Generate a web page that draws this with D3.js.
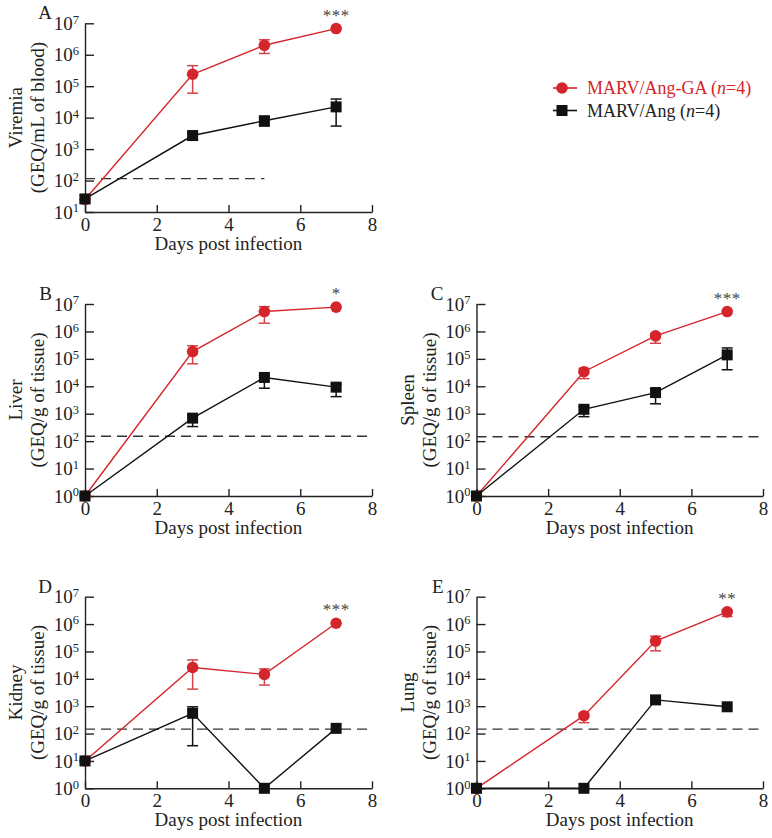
<!DOCTYPE html>
<html>
<head>
<meta charset="utf-8">
<script src="https://cdn.jsdelivr.net/npm/d3@7"></script>
<style>
  html, body { margin: 0; padding: 0; background: #fff; }
  svg { display: block; }
</style>
</head>
<body>
<svg id="chart" width="772" height="838"></svg>
<script>
// ---------------- DATA ----------------
const days = [0, 3, 5, 7];
const xTickValues = [0, 2, 4, 6, 8];
const seriesNames = ["MARV/Ang-GA", "MARV/Ang"];
const seriesN = [4, 4];
const panelLetters = ["A", "B", "C", "D", "E"];
const yTitleLine1 = ["Viremia", "Liver", "Spleen", "Kidney", "Lung"];
const yTitleLine2 = ["(GEQ/mL of blood)", "(GEQ/g of tissue)", "(GEQ/g of tissue)", "(GEQ/g of tissue)", "(GEQ/g of tissue)"];
const xTitle = "Days post infection";
const significance = ["***", "*", "***", "***", "**"];
const yMinExponent = [1, 0, 0, 0, 0];
const yMaxExponent = [7, 7, 7, 7, 7];
const detectionLimit = [115, 150, 145, 145, 145];
const detectionLimitEndDay = [5, 8, 8, 8, 8];

// MARV/Ang-GA (red) mean, lower and upper error per panel (null = no visible bar)
const gaMean = [
  [25, 2.4e5, 2.0e6, 6.8e6],
  [1, 1.85e5, 5.3e6, 7.7e6],
  [1, 3.4e4, 6.9e5, 5.3e6],
  [10, 2.6e4, 1.45e4, 1.07e6],
  [1, 450, 2.4e5, 2.8e6]
];
const gaLow = [
  [null, 6.0e4, 1.1e6, null],
  [null, 6.6e4, 2.0e6, null],
  [null, 1.9e4, 3.7e5, null],
  [null, 4.2e3, 5.9e3, null],
  [null, 250, 1.05e5, 1.9e6]
];
const gaHigh = [
  [null, 4.5e5, 3.0e6, null],
  [null, 3.0e5, 8.0e6, null],
  [null, 4.5e4, 8.5e5, null],
  [null, 4.9e4, 2.3e4, null],
  [null, 550, 3.6e5, 3.3e6]
];
// MARV/Ang (black)
const angMean = [
  [26, 2.7e3, 8.0e3, 2.2e4],
  [1, 690, 2.1e4, 9.3e3],
  [1, 1450, 5.9e3, 1.4e5],
  [10, 550, 1, 155],
  [1, 1, 1700, 950]
];
const angLow = [
  [19, 2.0e3, 5.4e3, 5.4e3],
  [null, 340, 8.5e3, 4.2e3],
  [null, 780, 2.3e3, 4.0e4],
  [null, 36, null, null],
  [null, null, null, null]
];
const angHigh = [
  [34, 3.3e3, 1.0e4, 3.9e4],
  [null, 900, 2.5e4, 1.2e4],
  [null, 1800, 8.0e3, 2.5e5],
  [null, 950, null, null],
  [null, null, null, null]
];

// ---------------- LAYOUT ----------------
const FONT = '"Liberation Serif","Times New Roman",Times,serif';
const RED = "#d4252b";
const RED_ERR = "#d6434a";
const BLACK = "#111";
const layout = [
  { x0: 85,    x1: 372, yTop: 23.3,  yBot: 212 },
  { x0: 85,    x1: 372, yTop: 304,   yBot: 496 },
  { x0: 476.5, x1: 763, yTop: 304,   yBot: 496 },
  { x0: 85,    x1: 372, yTop: 596.7, yBot: 788.3 },
  { x0: 476.5, x1: 763, yTop: 596.7, yBot: 788.3 }
];

const svg = d3.select("#chart");

function styleAxis(g) {
  g.select(".domain").attr("stroke", "#222").attr("stroke-width", 1.4);
  g.selectAll(".tick line").attr("stroke", "#222").attr("stroke-width", 1.4);
  g.selectAll("text").attr("font-family", FONT).attr("font-size", 19).attr("fill", "#222");
}

layout.forEach((L, i) => {
  const g = svg.append("g");
  const x = d3.scaleLinear().domain([0, 8]).range([L.x0, L.x1]);
  const y = d3.scaleLog().domain([Math.pow(10, yMinExponent[i]), Math.pow(10, yMaxExponent[i])]).range([L.yBot, L.yTop]);

  // Y axis
  const exps = d3.range(yMinExponent[i], yMaxExponent[i] + 1);
  const yAxis = d3.axisLeft(y).tickValues(exps.map(e => Math.pow(10, e)))
    .tickSize(-9).tickSizeOuter(0).tickPadding(6).tickFormat(() => "");
  const gy = g.append("g").attr("transform", `translate(${L.x0},0)`).call(yAxis);
  styleAxis(gy);
  gy.selectAll(".tick text").each(function(d) {
    const t = d3.select(this);
    const e = Math.round(Math.log10(d));
    t.text(null);
    t.append("tspan").text("10");
    t.append("tspan").attr("dy", "-0.5em").attr("font-size", 12.5).text(e);
  });

  // X axis
  const xAxis = d3.axisBottom(x).tickValues(xTickValues).tickSize(-7).tickSizeOuter(0).tickPadding(5.5).tickFormat(d3.format("d"));
  const gx = g.append("g").attr("transform", `translate(0,${L.yBot})`).call(xAxis);
  styleAxis(gx);

  // Axis titles
  g.append("text").attr("x", (L.x0 + L.x1) / 2).attr("y", L.yBot + 38)
    .attr("text-anchor", "middle").attr("font-family", FONT).attr("font-size", 19).attr("fill", "#222")
    .text(xTitle);
  const cy = (L.yTop + L.yBot) / 2;
  g.append("text").attr("transform", `translate(${L.x0 - 63},${cy}) rotate(-90)`)
    .attr("text-anchor", "middle").attr("font-family", FONT).attr("font-size", 19).attr("fill", "#222")
    .text(yTitleLine1[i]);
  g.append("text").attr("transform", `translate(${L.x0 - 41},${cy}) rotate(-90)`)
    .attr("text-anchor", "middle").attr("font-family", FONT).attr("font-size", 19).attr("fill", "#222")
    .text(yTitleLine2[i]);

  // Panel letter
  g.append("text").attr("x", L.x0 - 33).attr("y", L.yTop - 4)
    .attr("text-anchor", "end").attr("font-family", FONT).attr("font-size", 19).attr("fill", "#222")
    .text(panelLetters[i]);

  // Detection limit
  g.append("line")
    .attr("x1", x(0)).attr("x2", x(detectionLimitEndDay[i]))
    .attr("y1", y(detectionLimit[i])).attr("y2", y(detectionLimit[i]))
    .attr("stroke", "#333").attr("stroke-width", 1.4).attr("stroke-dasharray", "10,6");

  const series = [
    { mean: gaMean[i], lo: gaLow[i], hi: gaHigh[i], color: RED, err: RED_ERR, shape: "circle" },
    { mean: angMean[i], lo: angLow[i], hi: angHigh[i], color: BLACK, err: BLACK, shape: "square" }
  ];
  const line = d3.line().x(d => x(d.day)).y(d => y(d.v));

  series.forEach(s => {
    const pts = days.map((d, k) => ({ day: d, v: s.mean[k], lo: s.lo[k], hi: s.hi[k] }));
    g.append("path").datum(pts).attr("d", line).attr("fill", "none")
      .attr("stroke", s.color).attr("stroke-width", 1.4);
    // error bars
    pts.forEach(p => {
      const ends = [];
      if (p.lo != null) ends.push(p.lo);
      if (p.hi != null) ends.push(p.hi);
      if (!ends.length) return;
      const top = p.hi != null ? p.hi : p.v;
      const bot = p.lo != null ? p.lo : p.v;
      g.append("line").attr("x1", x(p.day)).attr("x2", x(p.day))
        .attr("y1", y(top)).attr("y2", y(bot)).attr("stroke", s.err).attr("stroke-width", 1.5);
      ends.forEach(e => {
        g.append("line").attr("x1", x(p.day) - 5.5).attr("x2", x(p.day) + 5.5)
          .attr("y1", y(e)).attr("y2", y(e)).attr("stroke", s.err).attr("stroke-width", 1.5);
      });
    });
    // markers
    if (s.shape === "circle") {
      g.selectAll(null).data(pts).enter().append("circle")
        .attr("cx", d => x(d.day)).attr("cy", d => y(d.v)).attr("r", 5.8).attr("fill", s.color);
    } else {
      g.selectAll(null).data(pts).enter().append("rect")
        .attr("x", d => x(d.day) - 5.5).attr("y", d => y(d.v) - 5.5)
        .attr("width", 11).attr("height", 11).attr("fill", s.color);
    }
  });

  // significance stars
  g.append("text").attr("x", x(7)).attr("y", y(gaMean[i][3]) - 8)
    .attr("text-anchor", "middle").attr("font-family", FONT).attr("font-size", 17)
    .attr("fill", "#444").attr("letter-spacing", 0.5).text(significance[i]);
});

// ---------------- LEGEND ----------------
const legend = svg.append("g");
const legendColors = [RED, BLACK];
const legendShapes = ["circle", "square"];
seriesNames.forEach((name, k) => {
  const ly = 88 + k * 22.5;
  legend.append("line").attr("x1", 553).attr("x2", 577).attr("y1", ly).attr("y2", ly)
    .attr("stroke", legendColors[k]).attr("stroke-width", 1.6);
  if (legendShapes[k] === "circle") {
    legend.append("circle").attr("cx", 562).attr("cy", ly).attr("r", 5.8).attr("fill", legendColors[k]);
  } else {
    legend.append("rect").attr("x", 562 - 5.5).attr("y", ly - 5.5).attr("width", 11).attr("height", 11).attr("fill", legendColors[k]);
  }
  const t = legend.append("text").attr("x", 587).attr("y", ly + 6)
    .attr("font-family", FONT).attr("font-size", 18).attr("fill", legendColors[k] === RED ? RED : "#222");
  t.append("tspan").text(name + " (");
  t.append("tspan").attr("font-style", "italic").text("n");
  t.append("tspan").text("=" + seriesN[k] + ")");
});
</script>
</body>
</html>
